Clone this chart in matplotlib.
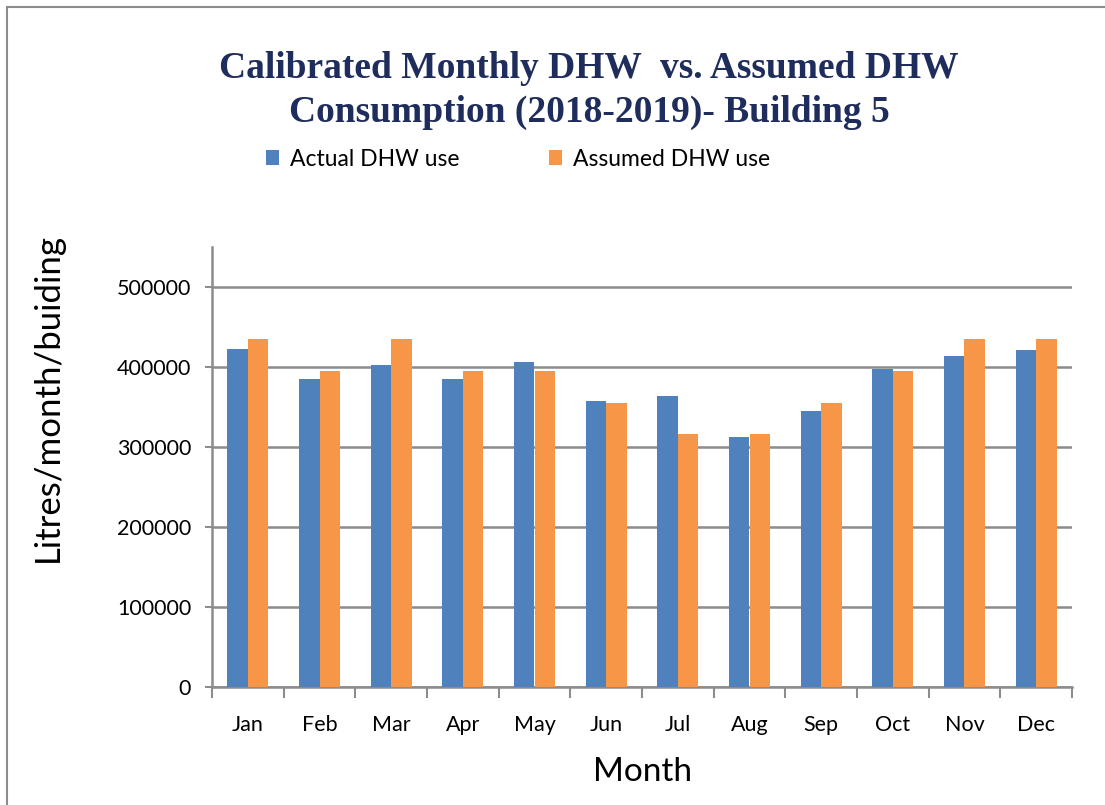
import numpy as np
import matplotlib.pyplot as plt
from matplotlib.patches import Rectangle

months = ['Jan', 'Feb', 'Mar', 'Apr', 'May', 'Jun', 'Jul', 'Aug', 'Sep', 'Oct', 'Nov', 'Dec']
actual = [423000, 385500, 402500, 384500, 406000, 358000, 364000, 313000, 345500, 398000, 414000, 421000]
assumed = [435000, 395000, 435000, 395000, 395000, 355500, 316000, 316000, 355500, 395000, 435000, 435000]
yticks = [0, 100000, 200000, 300000, 400000, 500000]

plt.rcParams['font.family'] = ['Lato', 'DejaVu Sans']

fig = plt.figure(figsize=(11.05, 8.05), dpi=100)
ax = fig.add_axes([212 / 1105, 1 - 687 / 805, 860 / 1105, 440 / 805])

x = np.arange(len(months))
w = 0.285
ax.bar(x - w / 2, actual, w, color='#4F81BD', label='Actual DHW use', zorder=3)
ax.bar(x + w / 2, assumed, w, color='#F79646', label='Assumed DHW use', zorder=3)

ax.set_xlim(-0.5, 11.5)
ax.set_ylim(0, 550000)
ax.set_yticks(yticks)
ax.set_yticklabels([str(v) for v in yticks], fontsize=15.5)
ax.yaxis.grid(True, color='#8c8c8c', linewidth=1.8, zorder=0)
ax.set_xticks(x)
ax.set_xticklabels(months, fontsize=15.5)
ax.tick_params(axis='x', length=0, pad=20)
ax.set_xticks(np.arange(-0.5, 12, 1), minor=True)
ax.tick_params(axis='x', which='minor', length=8, color='#8c8c8c', width=1.5)
ax.tick_params(axis='y', length=5, color='#8c8c8c', width=1.5, pad=10)

for s in ['top', 'right']:
    ax.spines[s].set_visible(False)
for s in ['left', 'bottom']:
    ax.spines[s].set_color('#8c8c8c')
    ax.spines[s].set_linewidth(1.8)

ax.set_xlabel('Month', fontsize=24, labelpad=16)
ax.set_ylabel('Litres/month/buiding', fontsize=25)
ax.yaxis.set_label_coords(-0.172, 0.657)

fig.text(0.533, 0.888, 'Calibrated Monthly DHW  vs. Assumed DHW\nConsumption (2018-2019)- Building 5',
         ha='center', va='center', fontsize=27, fontweight='bold', color='#1F2D5C',
         family=['Liberation Serif', 'DejaVu Serif'], linespacing=1.32)

fig.legend(loc='center left', bbox_to_anchor=(245 / 1105, 1 - 159 / 805), ncol=2,
           frameon=False, fontsize=16.5, handlelength=0.6, handleheight=0.6,
           handletextpad=0.45, columnspacing=3.9)

fig.patches.append(Rectangle((7 / 1105, -0.1), 1.2, 1.1 - 7 / 805, transform=fig.transFigure,
                             fill=False, edgecolor='#8c8c8c', linewidth=1.5))

fig.savefig('out.png', dpi=100)
